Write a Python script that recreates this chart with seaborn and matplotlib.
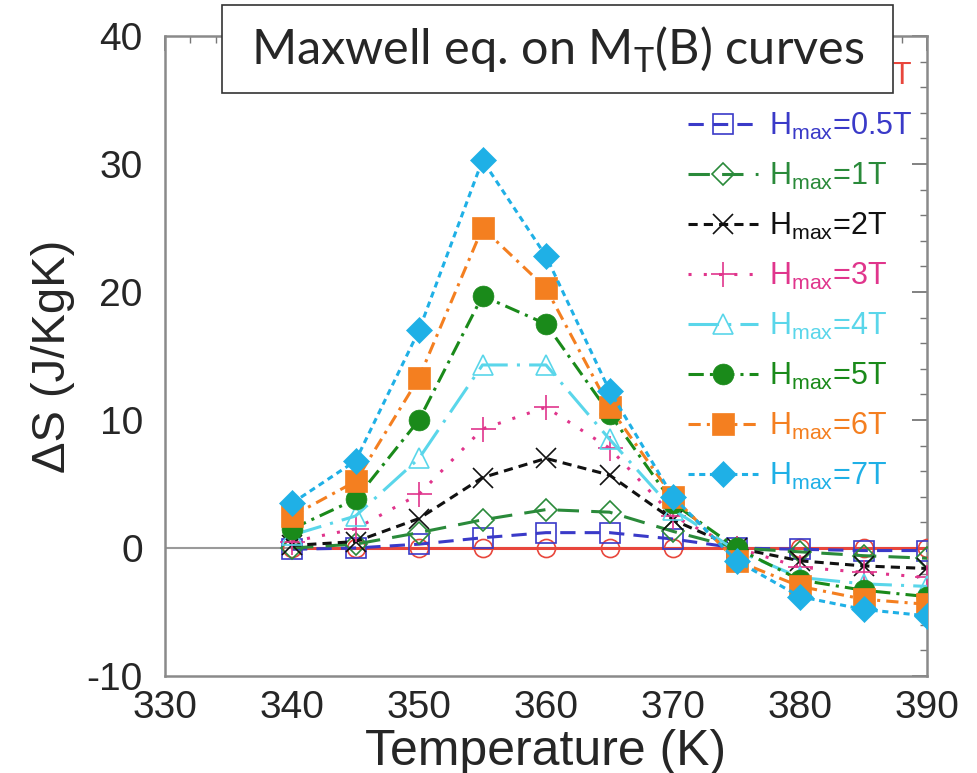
import numpy as np
import pandas as pd
import matplotlib
matplotlib.use("Agg")
import matplotlib.pyplot as plt
from matplotlib.patches import Rectangle
import seaborn as sns

temps = [340, 345, 350, 355, 360, 365, 370, 375, 380, 385, 390]

h01 = [0.0, 0.0, 0.0, 0.0, 0.0, 0.0, 0.0, 0.0, 0.0, 0.0, 0.0]
h05 = [-0.1, 0.0, 0.3, 0.8, 1.2, 1.2, 0.7, 0.0, -0.1, -0.2, -0.2]
h1 = [0.0, 0.3, 1.2, 2.2, 3.0, 2.8, 1.3, 0.0, -0.3, -0.6, -0.8]
h2 = [0.2, 0.5, 2.3, 5.5, 7.0, 5.7, 2.2, 0.0, -1.0, -1.4, -1.6]
h3 = [0.5, 1.5, 4.2, 9.3, 11.0, 7.8, 2.5, 0.0, -1.5, -1.9, -2.3]
h4 = [1.0, 2.5, 7.0, 14.3, 14.3, 8.5, 3.0, -0.2, -2.3, -2.8, -3.0]
h5 = [1.5, 3.8, 10.0, 19.7, 17.5, 10.5, 3.5, 0.0, -2.5, -3.3, -3.8]
h6 = [2.5, 5.2, 13.3, 25.0, 20.3, 11.0, 4.0, -1.0, -3.0, -4.0, -4.4]
h7 = [3.5, 6.8, 17.0, 30.3, 22.8, 12.3, 4.0, -1.0, -3.8, -4.8, -5.3]

labels = ["0.1T", "0.5T", "1T", "2T", "3T", "4T", "5T", "6T", "7T"]
series = [h01, h05, h1, h2, h3, h4, h5, h6, h7]

styles = [
    dict(color="#e8463c", marker="o", ls="-", filled=False, ms=13),
    dict(color="#3a3ac8", marker="s", ls=(0, (5, 3)), filled=False, ms=14),
    dict(color="#2a8a3a", marker="D", ls=(0, (7, 4)), filled=False, ms=11),
    dict(color="#111111", marker="x", ls=(0, (3, 2)), filled=False, ms=15),
    dict(color="#e0358c", marker="+", ls=(0, (1, 4)), filled=False, ms=18),
    dict(color="#5ad6ea", marker="^", ls=(0, (10, 3, 1, 3)), filled=False, ms=14),
    dict(color="#1a8a1a", marker="o", ls=(0, (5, 2, 1, 2)), filled=True, ms=15),
    dict(color="#f47f20", marker="s", ls=(0, (4, 2, 1, 2)), filled=True, ms=16),
    dict(color="#1fb0e6", marker="D", ls=(0, (2, 1.5)), filled=True, ms=13),
]

sns.set_style("white")
plt.rcParams['font.family'] = ['Liberation Sans', 'DejaVu Sans']
plt.rcParams['mathtext.fontset'] = 'custom'
plt.rcParams['mathtext.rm'] = 'Liberation Sans'
plt.rcParams['axes.unicode_minus'] = False

fig = plt.figure(figsize=(9.78, 7.73), dpi=100)
ax = fig.add_axes([165 / 978, 1 - 676 / 773, (927 - 165) / 978, (676 - 36) / 773])

ax.axhline(0, color="#9a9a9a", lw=1.5, zorder=1)

for lab, vals, st in zip(labels, series, styles):
    df = pd.DataFrame({"T": temps, "dS": vals})
    mfc = st["color"] if st["filled"] else "none"
    sns.lineplot(data=df, x="T", y="dS", ax=ax, color=st["color"], linestyle=st["ls"],
                 lw=2.2, marker=st["marker"], markersize=st["ms"], markerfacecolor=mfc,
                 markeredgecolor=st["color"], markeredgewidth=1.2 if not st["filled"] else 0.5,
                 label=r"H$_{\mathregular{max}}$=" + lab, zorder=3)

ax.set_xlim(330, 390)
ax.set_ylim(-10, 40)
ax.set_xticks([330, 340, 350, 360, 370, 380, 390])
ax.set_yticks([-10, 0, 10, 20, 30, 40])
ax.set_xticks(np.arange(330, 391, 2), minor=True)
ax.set_yticks(np.arange(-10, 41, 2), minor=True)
ax.tick_params(which="both", direction="in", top=True, right=True, color="#777777")
ax.tick_params(which="major", length=11, width=1.3, labelsize=28)
ax.tick_params(axis="y", which="major", pad=16)
ax.tick_params(axis="x", which="major", pad=10)
ax.tick_params(which="minor", length=5, width=1.0)
for s in ax.spines.values():
    s.set_color("#8a8a8a")
    s.set_linewidth(1.8)

ax.set_xlabel("Temperature (K)", fontsize=36, labelpad=2)
ax.set_ylabel("ΔS (J/KgK)", fontsize=34, labelpad=8)

leg = ax.legend(loc="upper right", bbox_to_anchor=(1.005, 0.99), frameon=False,
                fontsize=22, handlelength=2.3, labelspacing=0.62, handletextpad=0.35,
                borderaxespad=0.2)
for txt, st in zip(leg.get_texts(), styles):
    txt.set_color(st["color"])

# title box
fig.patches.append(Rectangle((222 / 978, 1 - 93 / 773), (893 - 222) / 978, 88 / 773,
                             transform=fig.transFigure, facecolor="white",
                             edgecolor="#333333", lw=1.2, zorder=10))
fig.text((222 + 893) / 2 / 978, 1 - 50 / 773, r"Maxwell eq. on M$_{\mathregular{T}}$(B) curves",
         ha="center", va="center", fontsize=35, family=["Lato", "DejaVu Sans"], zorder=11)

fig.savefig("out.png", dpi=100)
